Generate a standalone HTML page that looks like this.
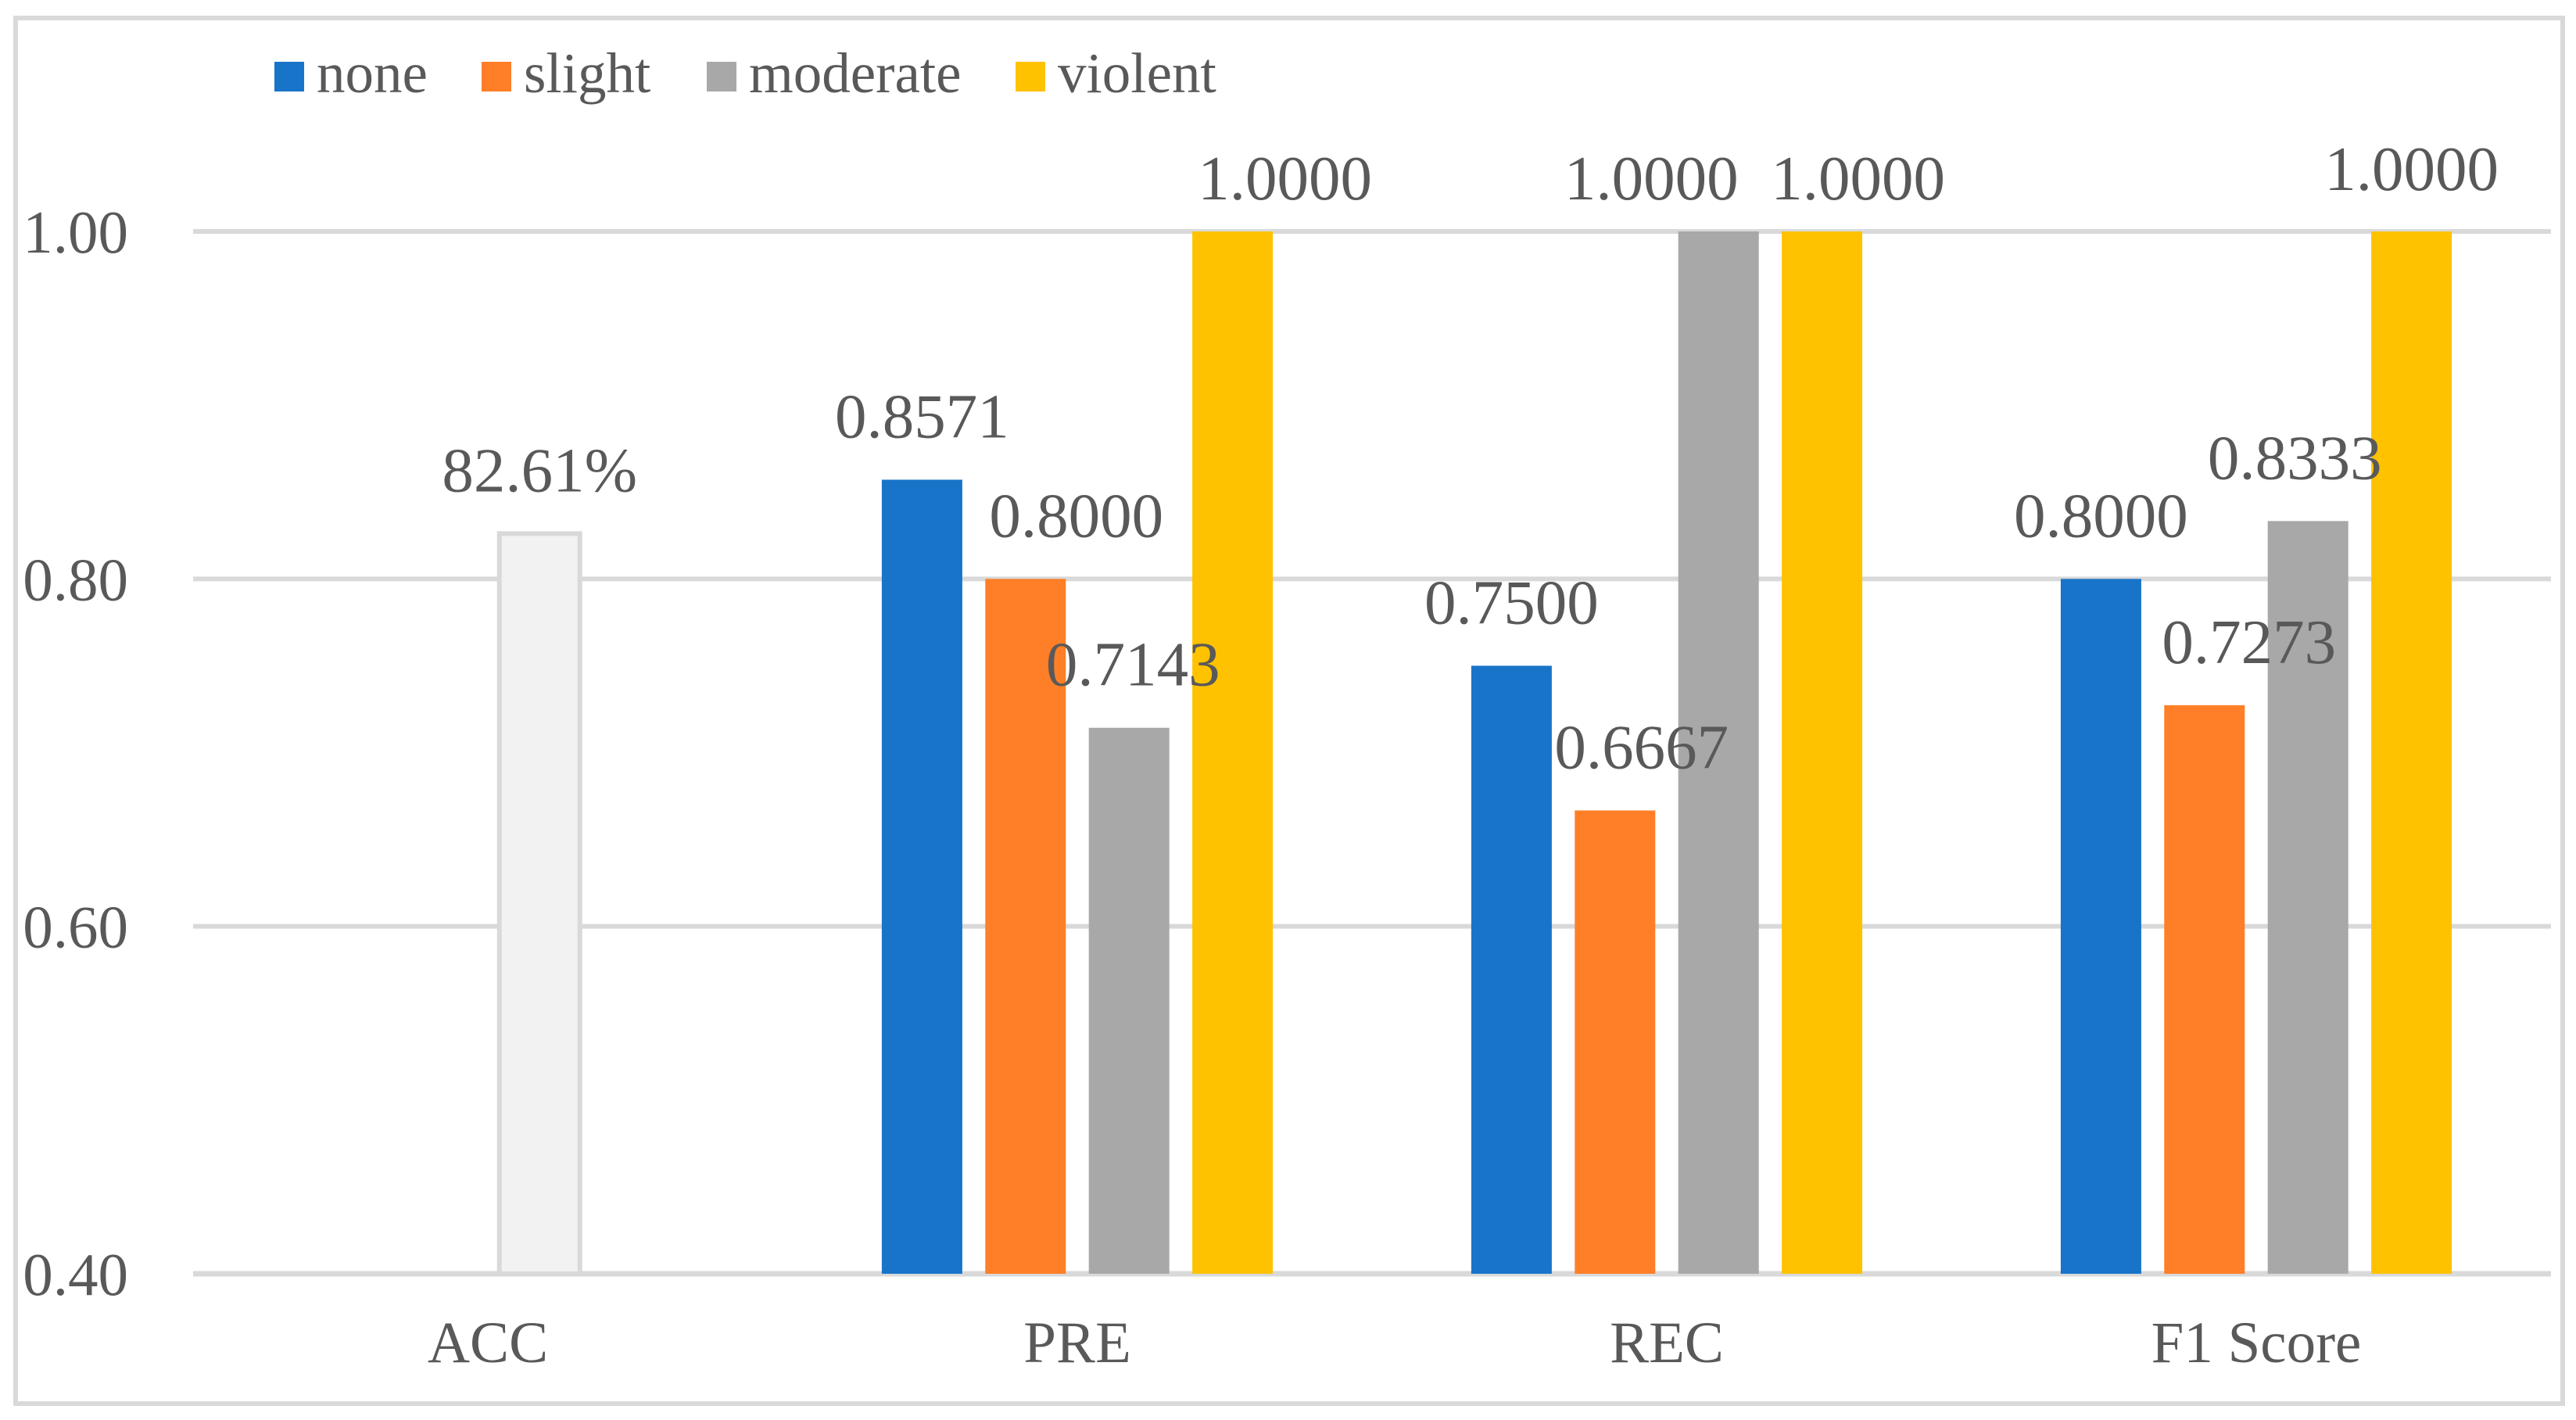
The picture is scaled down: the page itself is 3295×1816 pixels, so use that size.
<!DOCTYPE html>
<html><head><meta charset="utf-8"><style>
html,body{margin:0;padding:0;background:#fff;}
svg{display:block;font-family:"Liberation Serif","Times New Roman",serif;}
</style></head><body>
<svg id="chart" width="3295" height="1816" viewBox="0 0 3295 1816" xmlns="http://www.w3.org/2000/svg">
<rect x="20" y="23" width="3258" height="1772" fill="#fff" stroke="#d9d9d9" stroke-width="6"/>
<g id="grid"></g><g id="bars"></g><g id="labels"></g><g id="axes"></g>
<g id="legend"></g>
</svg>
<script>
const categories = ["ACC","PRE","REC","F1 Score"];
const seriesNames = ["none","slight","moderate","violent"];
const seriesColors = ["#1874c8","#fe7f27","#a8a8a8","#fec200"];
const noneVals = [null,0.8571,0.75,0.8];
const slightVals = [null,0.8,0.6667,0.7273];
const moderateVals = [0.8261,0.7143,1.0,0.8333];
const violentVals = [null,1.0,1.0,1.0];
const valueLabels = [["","0.8571","0.7500","0.8000"],["","0.8000","0.6667","0.7273"],["82.61%","0.7143","1.0000","0.8333"],["","1.0000","1.0000","1.0000"]];
const yTicks = [0.4,0.6,0.8,1.0];
const yTickLabels = ["0.40","0.60","0.80","1.00"];
// label nudges (px) to mimic overlap avoidance
const labelDx = [[0,0,0,0],[0,65,34,57],[0,5,-86,-17],[0,67,46,0]];

const NS="http://www.w3.org/2000/svg";
const plotL=247, plotR=3263, yMin=0.4, yMax=1.0, y0=1629, y1=296;
const band=(plotR-plotL)/categories.length, barW=103, step=132.4;
function yScale(v){return y0-(v-yMin)/(yMax-yMin)*(y0-y1);}
function xBar(ci,si){return plotL+band*(ci+0.5)+(si-1.5)*step-barW/2;}
function mk(tag,attrs,parent,text){const e=document.createElementNS(NS,tag);for(const k in attrs)e.setAttribute(k,attrs[k]);if(text!==undefined)e.textContent=text;parent.appendChild(e);return e;}
const grid=document.getElementById('grid'),bars=document.getElementById('bars'),labels=document.getElementById('labels'),axes=document.getElementById('axes'),legend=document.getElementById('legend');
yTicks.forEach((t,i)=>{
  const g=mk('line',{x1:plotL,x2:plotR,y1:yScale(t),y2:yScale(t),stroke:'#d9d9d9','stroke-width':i===0?7:6},grid);
  
  
  const l=mk('text',{x:164,y:yScale(t)+27,'text-anchor':'end','font-size':77,fill:'#595959'},axes,yTickLabels[i]);
  
  
});
categories.forEach((c,ci)=>{
  const l=mk('text',{x:plotL+band*(ci+0.5),y:1742,'text-anchor':'middle','font-size':75,fill:'#595959'},axes,c);
  
  
});
const allVals=[noneVals,slightVals,moderateVals,violentVals];
allVals.forEach((vals,si)=>{
  vals.forEach((v,ci)=>{
    if(v===null)return;
    const x=xBar(ci,si), y=yScale(v);
    const isAcc=ci===0;
    const r=mk('rect',{x:x,y:y,width:barW,height:y0-y,fill:isAcc?'#f2f2f2':seriesColors[si],stroke:isAcc?'#d9d9d9':'none','stroke-width':isAcc?6:0},bars);
    
    
    let ly=y-54; if(ly<255)ly=(ci===3?243:255);
    const t=mk('text',{x:x+barW/2+labelDx[si][ci],y:ly,'text-anchor':'middle','font-size':81,fill:'#595959'},labels,valueLabels[si][ci]);
    
    
  });
});
const legX=[351,616,904,1299];
seriesNames.forEach((n,i)=>{
  const s=mk('rect',{x:legX[i],y:79,width:38,height:38,fill:seriesColors[i]},legend);
  
  
  const t=mk('text',{x:legX[i]+54,y:118,'font-size':73,fill:'#595959'},legend,n);
  
  
});
</script>
</body></html>
